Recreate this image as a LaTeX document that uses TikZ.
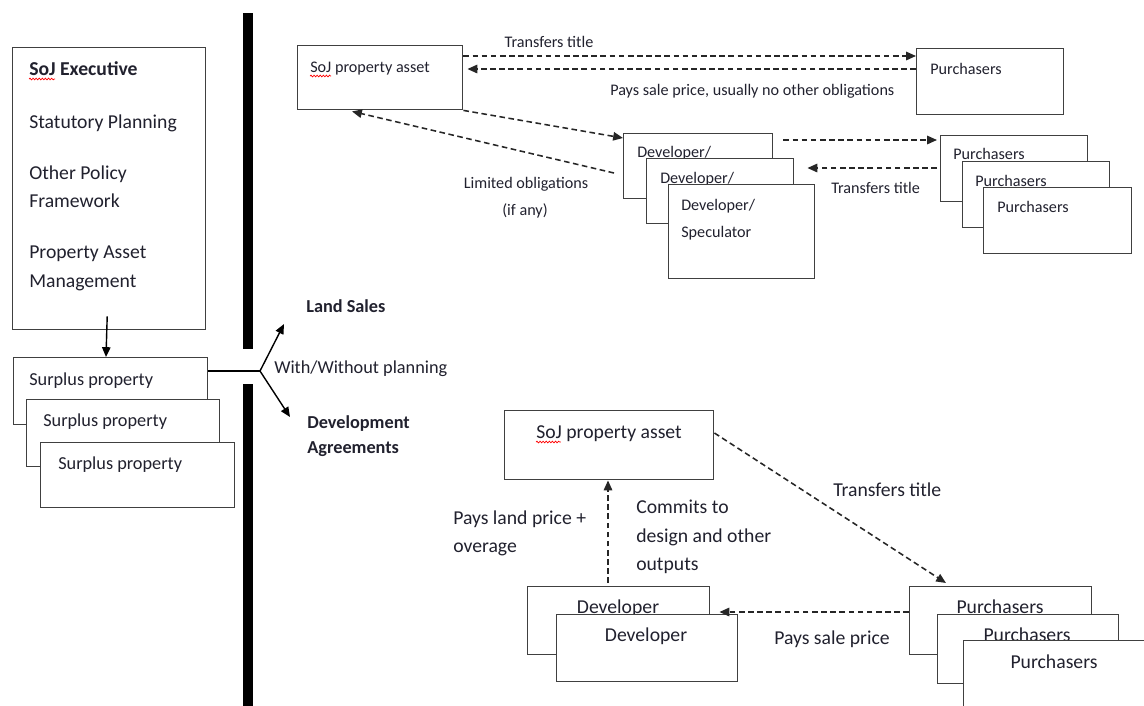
\documentclass[tikz,border=0pt]{standalone}
\usepackage{fontspec}
\setmainfont{Carlito}
\usetikzlibrary{arrows.meta, calc, decorations.pathmorphing}
\definecolor{ink}{rgb}{0.13,0.13,0.18}
\definecolor{edge}{rgb}{0.25,0.25,0.25}
\tikzstyle{box}=[%
      rectangle, draw=edge, line width=1pt, fill=white,
      anchor=north west, inner sep=0pt
]
\tikzstyle{sm}=[%
      text=ink, inner sep=0pt, anchor=base west, font=\fontsize{11.5}{14}\selectfont
]
\tikzstyle{md}=[%
      text=ink, inner sep=0pt, anchor=base west, font=\fontsize{13}{16}\selectfont
]
\tikzstyle{lg}=[%
      text=ink, inner sep=0pt, anchor=base west, font=\fontsize{14}{17}\selectfont
]
\tikzstyle{dasharr}=[%
      draw=black!85, line width=1.1pt, dash pattern=on 4pt off 2.5pt,
      -{Triangle[length=7pt,width=6pt]}
]
\tikzstyle{solidarr}=[%
      draw=black, line width=1pt, -{Triangle[length=7pt,width=6pt]}
]
\tikzstyle{squiggle}=[%
      draw=red, line width=0.5pt, decorate,
      decoration={snake, amplitude=0.6pt, segment length=2.2pt}
]

\begin{document}
\begin{tikzpicture}[x=0.25mm, y=-0.25mm]
    \useasboundingbox (0,0) rectangle (1144,705);
    \clip (0,0) rectangle (1144,705);

    % dividing bars
    \fill (243,13) rectangle (253,349);
    \fill (243,384) rectangle (253,710);

    % left column
    \node[box, minimum width=48.25mm, minimum height=70.5mm] (exec) at (12,47) {};
    \node[lg, font=\fontsize{14}{17}\selectfont\bfseries] (execA) at (29,75) {SoJ Executive};
    \node[lg] (execB) at (29,128) {Statutory Planning};
    \node[lg] (execC) at (29,179) {Other Policy};
    \node[lg] (execD) at (29,207) {Framework};
    \node[lg] (execE) at (29,258) {Property Asset};
    \node[lg] (execF) at (29,287) {Management};
    \draw[squiggle] ($(execA.base west)+(0,4)$) -- ++(26,0);

    \node[box, minimum width=48.5mm, minimum height=16.75mm] (sp1) at (13,357) {};
    \node[md] (sp1t) at (29,385) {Surplus property};
    \node[box, minimum width=48.25mm, minimum height=16.75mm] (sp2) at (26,399) {};
    \node[md] (sp2t) at (43,426) {Surplus property};
    \node[box, minimum width=48.5mm, minimum height=16.25mm] (sp3) at (40,442) {};
    \node[md] (sp3t) at (58,469) {Surplus property};

    \draw[solidarr] ($(exec.south)+(-2,-14)$) -- ($(sp1.north west)+(93,0)$);

    % fork
    \coordinate (fork) at (260,371);
    \coordinate (upTip) at (284,324);
    \coordinate (downTip) at (290,417);
    \draw[line width=1pt] ($(sp1.north east)+(0,14)$) -- (fork);
    \draw[solidarr] (fork) -- (upTip);
    \draw[solidarr] (fork) -- (downTip);
    \node[md, font=\fontsize{13}{16}\selectfont\bfseries] (landSales) at (306,312) {Land Sales};
    \node[md] (withWithout) at (274,373) {With/Without planning};
    \node[md, font=\fontsize{13}{16}\selectfont\bfseries] (devAgrA) at (307,428) {Development};
    \node[md, font=\fontsize{13}{16}\selectfont\bfseries] (devAgrB) at (307,453) {Agreements};

    % land sales
    \node[box, minimum width=41.25mm, minimum height=16mm] (soj1) at (297,45) {};
    \node[sm] (soj1t) at (310,72) {SoJ property asset};
    \draw[squiggle] ($(soj1t.base west)+(0,4)$) -- ++(21,0);
    \node[box, minimum width=36.75mm, minimum height=16.5mm] (pt) at (916,48) {};
    \node[sm] (ptt) at (930,74) {Purchasers};

    \node[box, minimum width=37.25mm, minimum height=16.25mm] (dv1) at (623,133) {};
    \node[sm] (dv1t) at (637,157) {Developer/};
    \node[box, minimum width=36.75mm, minimum height=16.25mm] (dv2) at (646,158) {};
    \node[sm] (dv2t) at (660,183) {Developer/};
    \node[box, minimum width=36.5mm, minimum height=23.5mm] (dv3) at (668,184) {};
    \node[sm] (dv3t) at (681,210) {Developer/};
    \node[sm] (dv3u) at (681,237) {Speculator};

    \node[box, minimum width=36.75mm, minimum height=16.5mm] (pa) at (940,135) {};
    \node[sm] (pat) at (953,159) {Purchasers};
    \node[box, minimum width=36.75mm, minimum height=16.5mm] (pb) at (962,161) {};
    \node[sm] (pbt) at (975,186) {Purchasers};
    \node[box, minimum width=37mm, minimum height=16.5mm] (pc) at (983,187) {};
    \node[sm] (pct) at (997,212) {Purchasers};

    \draw[dasharr] ($(soj1.north east)+(0,11)$) -- ($(pt.north west)+(0,8)$);
    \draw[dasharr] ($(pt.north west)+(0,21)$) -- ($(soj1.north east)+(4,24)$);
    \draw[dasharr] (soj1.south east) -- ($(dv1.north west)+(0,5)$);
    \draw[dasharr] ($(dv1.north west)+(-9,40)$) -- ($(soj1.south west)+(55,1)$);
    \draw[dasharr] ($(dv1.north east)+(10,7)$) -- ($(pa.north west)+(-3,5)$);
    \draw[dasharr] ($(pa.north west)+(-3,33)$) -- ($(dv2.north east)+(13,10)$);

    \node[sm, anchor=base] (lblTitleA) at (549,47) {Transfers title};
    \node[sm] (lblPaysA) at (610,95) {Pays sale price, usually no other obligations};
    \node[sm, anchor=base] (lblLimA) at (526,188) {Limited obligations};
    \node[sm, anchor=base] (lblLimB) at (525,215) {(if any)};
    \node[sm] (lblTitleB) at (831,193) {Transfers title};

    % development agreements
    \node[box, minimum width=52.25mm, minimum height=17.25mm] (soj2) at (504,410) {};
    \node[lg, anchor=base] (soj2t) at (609,438) {SoJ property asset};
    \draw[squiggle] ($(soj2t.base west)+(0,4)$) -- ++(25,0);

    \node[box, minimum width=45.5mm, minimum height=17mm] (db1) at (527,586) {};
    \node[lg, anchor=base] (db1t) at (618,613) {Developer};
    \node[box, minimum width=45.25mm, minimum height=16.75mm] (db2) at (556,614) {};
    \node[lg, anchor=base] (db2t) at (646,641) {Developer};

    \node[box, minimum width=45.5mm, minimum height=17mm] (qa) at (909,586) {};
    \node[lg, anchor=base] (qat) at (1000,613) {Purchasers};
    \node[box, minimum width=45.25mm, minimum height=17.25mm] (qb) at (937,614) {};
    \node[lg, anchor=base] (qbt) at (1027,641) {Purchasers};
    \node[box, minimum width=47.5mm, minimum height=20mm] (qc) at (963,640) {};
    \node[lg, anchor=base] (qct) at (1054,668) {Purchasers};

    \draw[dasharr] ($(db1.north west)+(81,-3)$) -- ($(soj2.south west)+(104,0)$);
    \draw[dasharr] ($(soj2.north east)+(0,23)$) -- ($(qa.north west)+(37,-3)$);
    \draw[dasharr] ($(qa.north west)+(0,26)$) -- ($(db1.north east)+(9,26)$);

    \node[lg] (lblLandA) at (453,524) {Pays land price +};
    \node[lg] (lblLandB) at (453,552) {overage};
    \node[lg] (lblComA) at (636,513) {Commits to};
    \node[lg] (lblComB) at (636,542) {design and other};
    \node[lg] (lblComC) at (636,570) {outputs};
    \node[lg] (lblTitleC) at (833,496) {Transfers title};
    \node[lg] (lblPaysB) at (774,644) {Pays sale price};
\end{tikzpicture}
\end{document}
